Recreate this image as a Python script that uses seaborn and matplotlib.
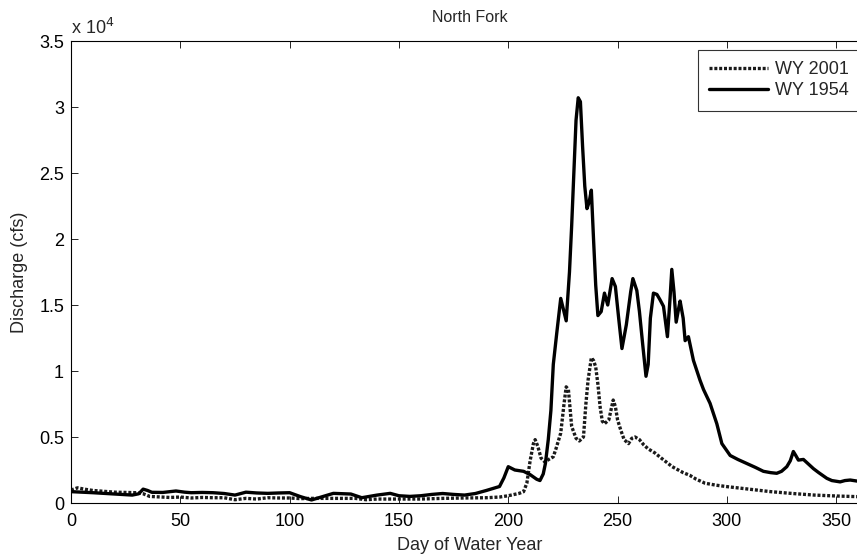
import matplotlib
matplotlib.use("Agg")
import matplotlib.pyplot as plt
import seaborn as sns
import pandas as pd
from matplotlib.ticker import FuncFormatter, MultipleLocator

# ---- data ----
days_1954 = [0, 10, 20, 28, 31, 33, 35, 37, 42, 48, 52, 55, 60, 65, 70, 75, 80, 85, 90, 95,
             100, 105, 110, 115, 120, 128, 133, 140, 146, 150, 155, 160, 165, 170, 175, 180,
             185, 190, 194, 196, 198, 200, 203, 207, 210, 213, 214.5, 216, 217, 218.3, 219.5,
             220.6, 222.2, 224, 225.5, 226.5, 228, 229, 230, 231, 232, 233, 234, 235, 236,
             237, 238, 239, 240, 241, 242.5, 244, 245.5, 247.5, 249, 250.5, 252, 254, 256,
             257, 258.8, 260, 261.5, 263, 264, 265, 266.4, 268, 269.4, 271, 272.8, 274,
             274.8, 275.8, 276.8, 278, 278.6, 280, 280.9, 282.4, 284.7, 287.7, 289.3, 292.3,
             295.4, 297.7, 301.5, 305, 309, 313, 316.7, 320, 322.8, 325, 327.4, 329, 330.4,
             331.5, 332.7, 335, 337, 339.6, 342, 345.7, 348, 351.8, 354, 356.4, 360, 365]
q_1954 = [860, 780, 680, 600, 700, 1050, 950, 810, 800, 910, 820, 780, 800, 780, 720, 600,
          820, 760, 730, 760, 780, 480, 230, 480, 730, 680, 400, 600, 730, 550, 500, 550,
          650, 720, 650, 600, 720, 950, 1150, 1250, 1900, 2750, 2500, 2400, 2150, 1800,
          1700, 2200, 3000, 4800, 7000, 10500, 12900, 15500, 14500, 13800, 17500, 21000,
          25000, 29000, 30700, 30400, 27000, 24000, 22300, 22800, 23700, 20000, 16500,
          14200, 14500, 15900, 15000, 17000, 16400, 14000, 11700, 13500, 16000, 17000,
          16100, 14500, 12000, 9600, 10500, 14000, 15900, 15800, 15400, 14900, 12600,
          15500, 17700, 16000, 13700, 14800, 15300, 14000, 12300, 12600, 10800, 9300, 8600,
          7550, 6000, 4500, 3600, 3300, 3000, 2700, 2400, 2300, 2250, 2400, 2750, 3200,
          3900, 3600, 3250, 3300, 3000, 2600, 2300, 1870, 1700, 1600, 1700, 1740, 1650, 1600]

days_2001 = [0, 3, 6, 10, 20, 30, 33, 36, 45, 50, 55, 60, 65, 70, 75, 80, 85, 90, 95, 100,
             105, 110, 120, 130, 135, 140, 150, 160, 170, 180, 190, 196, 200, 205, 207,
             208.5, 210, 211.5, 212.3, 213.5, 215, 216.8, 218.5, 220.6, 222, 224, 225.5,
             226.5, 227.5, 229, 231, 232.5, 234.4, 235.5, 236.5, 238, 239, 240, 241, 242,
             243, 244, 246, 248, 249, 250, 251.5, 253, 255, 256.5, 258, 260, 262, 264, 267,
             270, 275, 280, 283, 286, 290, 295, 300, 310, 320, 330, 340, 350, 360, 365]
q_2001 = [980, 1150, 1050, 950, 820, 780, 700, 500, 420, 450, 380, 420, 400, 400, 250, 350,
          300, 400, 380, 380, 330, 350, 350, 350, 250, 300, 300, 300, 350, 380, 400, 450,
          550, 730, 860, 1500, 3200, 4500, 4800, 4300, 3400, 3100, 3300, 3500, 4200, 5300,
          7500, 8800, 8600, 5800, 4900, 4700, 5000, 7500, 9300, 11000, 10800, 10300, 9000,
          7300, 6200, 6000, 6300, 7800, 7300, 6300, 5500, 4800, 4500, 4900, 5000, 4800,
          4400, 4100, 3800, 3400, 2750, 2300, 2100, 1800, 1500, 1350, 1240, 1050, 860, 720,
          600, 530, 480, 460]

series_names = ["WY 2001", "WY 1954"]
title = "North Fork"
x_label = "Day of Water Year"
y_label = "Discharge (cfs)"
x_ticks = [0, 50, 100, 150, 200, 250, 300, 350]

df = pd.concat([
    pd.DataFrame({"day": days_2001, "q": q_2001, "series": series_names[0]}),
    pd.DataFrame({"day": days_1954, "q": q_1954, "series": series_names[1]}),
], ignore_index=True)

sns.set_style("white")
plt.rcParams["font.family"] = ["Liberation Sans", "DejaVu Sans"]

fig = plt.figure(figsize=(8.57, 5.54), dpi=100)
W, H = 857, 554
ax = fig.add_axes([71 / W, 51 / H, (869 - 71) / W, (503 - 41) / H])

sns.lineplot(data=df, x="day", y="q", hue="series", style="series",
             hue_order=series_names, style_order=series_names,
             palette={"WY 2001": "#1a1a1a", "WY 1954": "black"},
             dashes={"WY 2001": (0.9, 0.55), "WY 1954": ""},
             linewidth=2.4, ax=ax, sort=False, estimator=None)

ax.set_xlim(0, 365)
ax.set_ylim(0, 35000)
ax.set_xticks(x_ticks)
ax.yaxis.set_major_locator(MultipleLocator(5000))
ax.yaxis.set_major_formatter(FuncFormatter(lambda v, p: "%g" % (v / 1e4)))

for s in ax.spines.values():
    s.set_visible(True)
    s.set_color("black")
    s.set_linewidth(0.8)

ax.tick_params(axis="both", which="both", direction="in", length=5, width=0.6,
               colors="black", labelsize=13, top=True, right=True,
               bottom=True, left=True)
ax.tick_params(axis="x", pad=7)
ax.tick_params(axis="y", pad=5)

ax.set_title(title, fontsize=11.5, pad=14)
ax.set_xlabel(x_label, fontsize=13, labelpad=5)
ax.set_ylabel(y_label, fontsize=13, labelpad=8)
ax.text(0.0, 1.006, "x 10$^{4}$", transform=ax.transAxes, fontsize=13,
        ha="left", va="bottom")

leg = ax.legend(loc="upper right", bbox_to_anchor=(0.9885, 0.981), fontsize=13,
                frameon=True, fancybox=False, handlelength=3.3, handletextpad=0.35,
                borderpad=0.62, labelspacing=0.25, borderaxespad=0.0)
leg.get_frame().set_edgecolor("black")
leg.get_frame().set_linewidth(0.8)
for line in leg.get_lines():
    line.set_linewidth(2.4)

fig.savefig("out.png", dpi=100)
